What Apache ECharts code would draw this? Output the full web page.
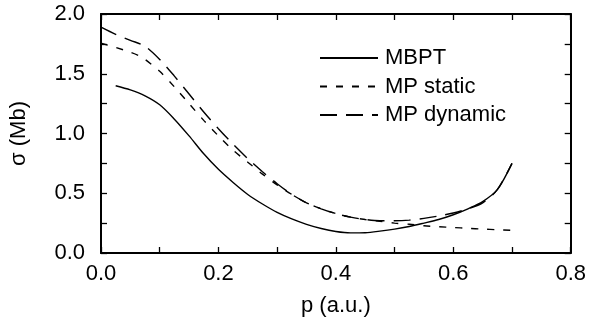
<!DOCTYPE html>
<html>
<head>
<meta charset="utf-8">
<script src="https://cdn.jsdelivr.net/npm/echarts@6/dist/echarts.min.js"></script>
<style>
html,body{margin:0;padding:0;background:#fff;}
#c{width:589px;height:326px;}
</style>
</head>
<body>
<div id="c"></div>
<script>
var pDyn = [0, 0.025, 0.05, 0.075, 0.1, 0.125, 0.15, 0.175, 0.2, 0.225, 0.25, 0.275, 0.3, 0.325, 0.35, 0.375, 0.4, 0.425, 0.45, 0.475, 0.5, 0.525, 0.55, 0.575, 0.6, 0.625, 0.65, 0.675, 0.7];
var sigmaDyn = [1.89, 1.83, 1.78, 1.73, 1.62, 1.48, 1.33, 1.18, 1.04, 0.91, 0.79, 0.68, 0.58, 0.49, 0.42, 0.37, 0.33, 0.30, 0.28, 0.27, 0.27, 0.275, 0.29, 0.31, 0.335, 0.37, 0.42, 0.53, 0.75];

var pStat = [0, 0.025, 0.05, 0.065, 0.075, 0.1, 0.125, 0.15, 0.175, 0.2, 0.225, 0.25, 0.275, 0.3, 0.325, 0.35, 0.375, 0.4, 0.425, 0.45, 0.475, 0.5, 0.525, 0.55, 0.575, 0.6, 0.625, 0.65, 0.675, 0.7];
var sigmaStat = [1.755, 1.72, 1.68, 1.65, 1.62, 1.52, 1.39, 1.25, 1.11, 0.98, 0.86, 0.76, 0.66, 0.57, 0.49, 0.42, 0.37, 0.33, 0.30, 0.28, 0.265, 0.25, 0.24, 0.228, 0.22, 0.213, 0.207, 0.20, 0.195, 0.19];

var pMbpt = [0.025, 0.05, 0.075, 0.1, 0.125, 0.15, 0.175, 0.2, 0.225, 0.25, 0.275, 0.3, 0.325, 0.35, 0.375, 0.4, 0.425, 0.45, 0.475, 0.5, 0.525, 0.55, 0.575, 0.6, 0.625, 0.65, 0.675, 0.7];
var sigmaMbpt = [1.40, 1.365, 1.315, 1.24, 1.12, 0.98, 0.83, 0.70, 0.59, 0.49, 0.41, 0.34, 0.285, 0.24, 0.205, 0.18, 0.168, 0.17, 0.183, 0.20, 0.222, 0.25, 0.28, 0.32, 0.37, 0.43, 0.53, 0.75];

var seriesNames = ['MBPT', 'MP static', 'MP dynamic'];
var xTitle = 'p (a.u.)';
var yTitle = 'σ (Mb)';

function pairs(xs, ys) { return xs.map(function (x, i) { return [x, ys[i]]; }); }

var FONT = 'Liberation Sans, Arial, Helvetica, sans-serif';
var FS = 22;
var tickStyle = { show: true, inside: true, length: 6, lineStyle: { color: '#000', width: 1.3 } };
var minorStyle = { show: true, splitNumber: 2, length: 6, lineStyle: { color: '#000', width: 1.3 } };
var lineAxis = { show: true, onZero: false, lineStyle: { color: '#000', width: 2 } };

var chart = echarts.init(document.getElementById('c'), null, { renderer: 'canvas' });
chart.setOption({
  animation: false,
  backgroundColor: '#fff',
  grid: { left: 94, right: 16, top: 14, bottom: 73, containLabel: false },
  legend: {
    orient: 'vertical',
    left: 314,
    top: 42,
    itemWidth: 58,
    itemHeight: 14,
    itemGap: 6.5,
    data: seriesNames,
    itemStyle: { opacity: 0 },
    textStyle: { fontFamily: FONT, fontSize: FS, color: '#000', lineHeight: 22, padding: [0, 0, 0, 2] }
  },
  xAxis: [
    {
      type: 'value', min: 0, max: 0.8, interval: 0.2, position: 'bottom',
      axisLine: lineAxis, axisTick: tickStyle, minorTick: minorStyle, splitLine: { show: false },
      axisLabel: { fontFamily: FONT, fontSize: FS, color: '#000', margin: 10, formatter: function (v) { return v.toFixed(1); } },
      name: xTitle, nameLocation: 'middle', nameGap: 42,
      nameTextStyle: { fontFamily: FONT, fontSize: FS, color: '#000' }
    },
    {
      type: 'value', min: 0, max: 0.8, interval: 0.2, position: 'top',
      axisLine: lineAxis, axisTick: tickStyle, minorTick: minorStyle, splitLine: { show: false },
      axisLabel: { show: false }
    }
  ],
  yAxis: [
    {
      type: 'value', min: 0, max: 2, interval: 0.5, position: 'left',
      axisLine: lineAxis, axisTick: tickStyle, minorTick: minorStyle, splitLine: { show: false },
      axisLabel: { fontFamily: FONT, fontSize: FS, color: '#000', margin: 16, formatter: function (v) { return v.toFixed(1); } },
      name: yTitle, nameLocation: 'middle', nameGap: 71, nameRotate: 90,
      nameTextStyle: { fontFamily: FONT, fontSize: FS, color: '#000' }
    },
    {
      type: 'value', min: 0, max: 2, interval: 0.5, position: 'right',
      axisLine: lineAxis, axisTick: tickStyle, minorTick: minorStyle, splitLine: { show: false },
      axisLabel: { show: false }
    }
  ],
  series: [
    {
      name: seriesNames[0], type: 'line', smooth: 0.3, showSymbol: false, symbol: 'none',
      xAxisIndex: 0, yAxisIndex: 0,
      data: pairs(pMbpt, sigmaMbpt),
      lineStyle: { color: '#000', width: 1.4, type: 'solid' },
      itemStyle: { color: '#000' }
    },
    {
      name: seriesNames[1], type: 'line', smooth: 0.3, showSymbol: false, symbol: 'none',
      xAxisIndex: 0, yAxisIndex: 0,
      data: pairs(pStat, sigmaStat),
      lineStyle: { color: '#000', width: 1.4, type: [7, 9] },
      itemStyle: { color: '#000' }
    },
    {
      name: seriesNames[2], type: 'line', smooth: 0.3, showSymbol: false, symbol: 'none',
      xAxisIndex: 0, yAxisIndex: 0,
      data: pairs(pDyn, sigmaDyn),
      lineStyle: { color: '#000', width: 1.4, type: [17, 9] },
      itemStyle: { color: '#000' }
    }
  ]
});
</script>
</body>
</html>
